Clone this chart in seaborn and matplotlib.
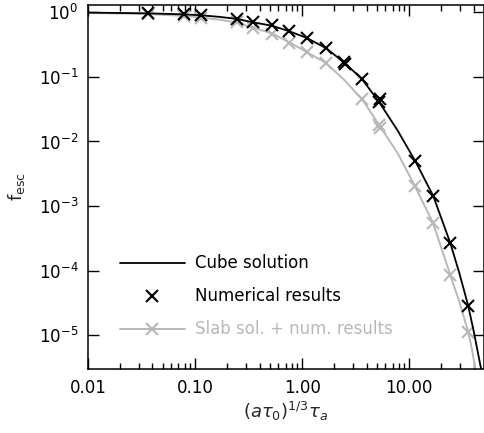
import numpy as np
import pandas as pd
import matplotlib
matplotlib.use("Agg")
import matplotlib.pyplot as plt
import matplotlib.ticker as mticker
import seaborn as sns

# Analytic cube solution (sampled)
cube_x = [0.01, 0.0364, 0.0788, 0.114, 0.17, 0.247, 0.348, 0.525, 0.757, 1.11, 1.68,
          2.47, 3.64, 5.25, 7.8, 11.4, 16.8, 24.2, 29.4, 35.6, 40.0, 47.0]
cube_y = [0.99, 0.966, 0.93, 0.90, 0.85, 0.79, 0.70, 0.62, 0.51, 0.40, 0.278,
          0.167, 0.092, 0.0406, 0.0148, 0.00498, 0.00143, 2.69e-4, 9.2e-5, 2.86e-5,
          1.17e-5, 3.0e-6]

# Numerical results for the cube
num_x = [0.0364, 0.0788, 0.114, 0.247, 0.348, 0.525, 0.757, 1.11, 1.68,
         2.47, 2.52, 3.64, 5.25, 5.35, 11.4, 16.8, 24.2, 35.6]
num_y = [0.966, 0.93, 0.90, 0.79, 0.70, 0.63, 0.51, 0.40, 0.278,
         0.169, 0.160, 0.092, 0.0406, 0.0450, 0.00498, 0.00143, 2.69e-4, 2.86e-5]

# Slab solution (sampled) and its numerical results
slab_x = [0.01, 0.0364, 0.0788, 0.114, 0.17, 0.247, 0.348, 0.525, 0.757, 1.11, 1.68,
          2.47, 3.64, 5.25, 7.8, 11.3, 16.7, 24.2, 29.4, 35.6, 38.5, 41.5]
slab_y = [0.98, 0.94, 0.88, 0.83, 0.77, 0.69, 0.58, 0.47, 0.345, 0.242, 0.163,
          0.090, 0.045, 0.0179, 0.0066, 0.00205, 5.5e-4, 8.6e-5, 3.3e-5, 1.13e-5,
          6.2e-6, 3.0e-6]
slab_num_x = [0.0364, 0.0788, 0.114, 0.247, 0.348, 0.525, 0.757, 1.11, 1.68,
              3.64, 5.25, 5.35, 11.3, 16.7, 24.2, 35.6]
slab_num_y = [0.94, 0.88, 0.83, 0.70, 0.57, 0.47, 0.34, 0.24, 0.163,
              0.045, 0.0179, 0.0160, 0.00205, 5.5e-4, 8.6e-5, 1.13e-5]

xticks = [0.01, 0.1, 1.0, 10.0]
xticklabels = ["0.01", "0.10", "1.00", "10.00"]
yticks = [1e-5, 1e-4, 1e-3, 1e-2, 1e-1, 1e0]

GRAY = "#b8b8b8"

sns.set_style("ticks")
plt.rcParams["font.family"] = ["DejaVu Sans"]
plt.rcParams["mathtext.fontset"] = "dejavusans"

fig = plt.figure(figsize=(4.84, 4.33), dpi=100)
ax = fig.add_axes([0.1818, 0.1478, 0.8182, 0.8407])

sns.lineplot(x=slab_x, y=slab_y, ax=ax, color=GRAY, lw=1.4, sort=False,
             estimator=None, zorder=2)
sns.lineplot(x=cube_x, y=cube_y, ax=ax, color="black", lw=1.3, sort=False,
             estimator=None, zorder=3)
ax.plot(slab_num_x, slab_num_y, ls="none", marker="x", ms=9, mew=1.5,
        color=GRAY, zorder=2)
ax.plot(num_x, num_y, ls="none", marker="x", ms=9, mew=1.5,
        color="black", zorder=4)

ax.set_xscale("log")
ax.set_yscale("log")
ax.set_xlim(0.01, 50)
ax.set_ylim(3.0e-6, 1.3)

ax.set_xticks(xticks)
ax.set_xticklabels(xticklabels)
ax.set_yticks(yticks)
ax.yaxis.set_major_formatter(mticker.LogFormatterMathtext())
ax.yaxis.set_minor_locator(mticker.NullLocator())
ax.xaxis.set_minor_locator(mticker.LogLocator(base=10, subs=np.arange(2, 10)))
ax.xaxis.set_minor_formatter(mticker.NullFormatter())

ax.tick_params(which="both", direction="in", top=True, right=True,
               width=1.0, labelsize=12, colors="black", pad=7)
ax.tick_params(which="major", length=8)
ax.tick_params(which="minor", length=4)
for s in ax.spines.values():
    s.set_linewidth(1.1)
    s.set_color("black")

ax.set_xlabel(r"$(a\tau_0)^{1/3}\tau_a$", fontsize=13, labelpad=2)
ax.set_ylabel(r"$\mathrm{f}_{\mathrm{esc}}$", fontsize=13, labelpad=8)

handles = [
    plt.Line2D([], [], color="black", lw=1.3),
    plt.Line2D([], [], color="black", ls="none", marker="x", ms=9, mew=1.5),
    plt.Line2D([], [], color=GRAY, lw=1.4, marker="x", ms=9, mew=1.5),
]
labels = ["Cube solution", "Numerical results", "Slab sol. + num. results"]
ax.legend(handles, labels, loc="upper left", bbox_to_anchor=(0.08, 0.315),
          frameon=False, fontsize=12, handlelength=3.9, handletextpad=0.6,
          labelspacing=0.9, borderpad=0, borderaxespad=0,
          labelcolor=["black", "black", GRAY])

fig.savefig("out.png", dpi=100)
